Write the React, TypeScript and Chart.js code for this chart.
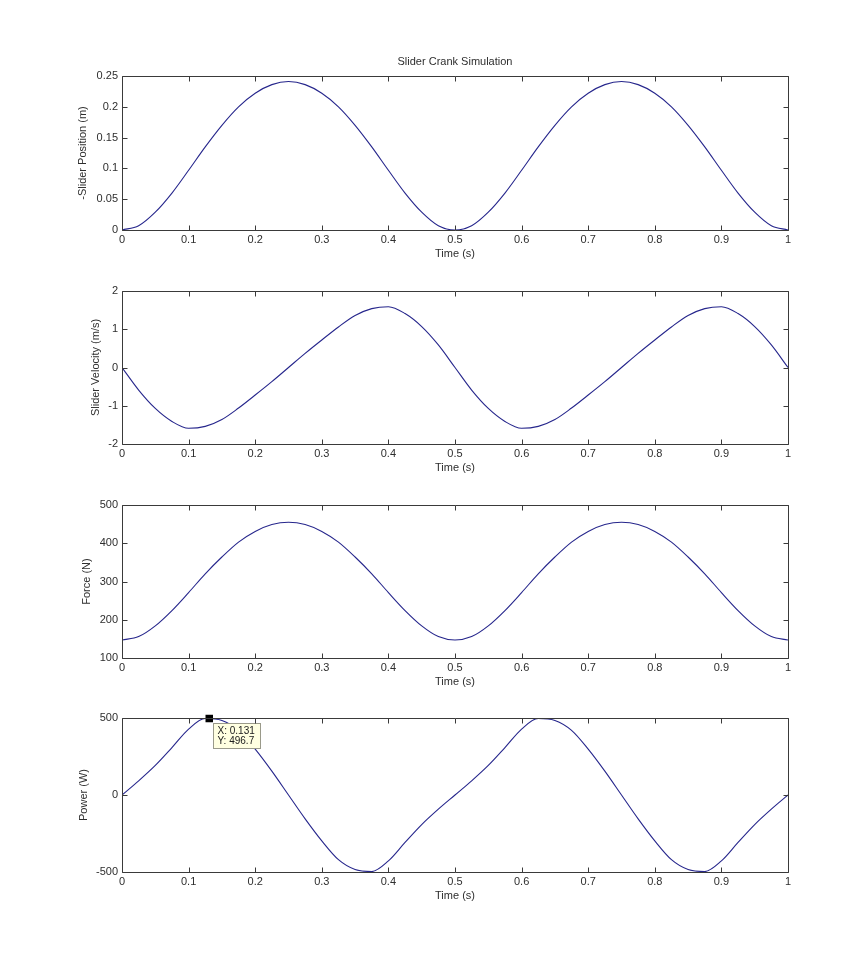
import React, { useEffect, useRef } from 'react';
import { Chart, registerables } from 'chart.js';

Chart.register(...registerables);

// ---------- data ----------
const timeValues = [0, 0.025, 0.05, 0.075, 0.1, 0.125, 0.15, 0.175, 0.2, 0.225, 0.25, 0.275, 0.3, 0.325, 0.35, 0.375, 0.4, 0.425, 0.45, 0.475, 0.5,
  0.525, 0.55, 0.575, 0.6, 0.625, 0.65, 0.675, 0.7, 0.725, 0.75, 0.775, 0.8, 0.825, 0.85, 0.875, 0.9, 0.925, 0.95, 0.975, 1];

const positionValues = [0, 0.007, 0.029, 0.060, 0.097, 0.135, 0.170, 0.200, 0.222, 0.236, 0.241, 0.236, 0.222, 0.200, 0.170, 0.135, 0.097, 0.060, 0.029, 0.007, 0,
  0.007, 0.029, 0.060, 0.097, 0.135, 0.170, 0.200, 0.222, 0.236, 0.241, 0.236, 0.222, 0.200, 0.170, 0.135, 0.097, 0.060, 0.029, 0.007, 0];

const velocityValues = [0, -0.59, -1.07, -1.41, -1.59, -1.54, -1.36, -1.06, -0.72, -0.37, 0, 0.37, 0.72, 1.06, 1.36, 1.54, 1.59, 1.41, 1.07, 0.59, 0,
  -0.59, -1.07, -1.41, -1.59, -1.54, -1.36, -1.06, -0.72, -0.37, 0, 0.37, 0.72, 1.06, 1.36, 1.54, 1.59, 1.41, 1.07, 0.59, 0];

const forceValues = [147, 156, 184, 224, 271, 320, 364, 403, 431, 449, 455, 449, 431, 403, 364, 320, 271, 224, 184, 156, 147,
  156, 184, 224, 271, 320, 364, 403, 431, 449, 455, 449, 431, 403, 364, 320, 271, 224, 184, 156, 147];

const powerValues = [0, 92, 192, 308, 428, 497, 484, 420, 298, 155, 0, -155, -298, -420, -484, -497, -428, -308, -192, -92, 0,
  92, 192, 308, 428, 497, 484, 420, 298, 155, 0, -155, -298, -420, -484, -497, -428, -308, -192, -92, 0];

const xTickValues = [0, 0.1, 0.2, 0.3, 0.4, 0.5, 0.6, 0.7, 0.8, 0.9, 1];
const xTickLabels = ['0', '0.1', '0.2', '0.3', '0.4', '0.5', '0.6', '0.7', '0.8', '0.9', '1'];

const positionTickValues = [0, 0.05, 0.1, 0.15, 0.2, 0.25];
const positionTickLabels = ['0', '0.05', '0.1', '0.15', '0.2', '0.25'];
const velocityTickValues = [-2, -1, 0, 1, 2];
const velocityTickLabels = ['-2', '-1', '0', '1', '2'];
const forceTickValues = [100, 200, 300, 400, 500];
const forceTickLabels = ['100', '200', '300', '400', '500'];
const powerTickValues = [-500, 0, 500];
const powerTickLabels = ['-500', '0', '500'];

const chartTitle = 'Slider Crank Simulation';
const xAxisTitle = 'Time (s)';
const dataTipX = 0.131;
const dataTipY = 496.7;

// ---------- styles ----------
const FONT_FAMILY = '"Liberation Sans", Arial, Helvetica, sans-serif';
const TEXT_COLOR = '#2e2e2e';
const AXIS_COLOR = '#3a3a3a';
const LINE_COLOR = '#26268c';

const boxPlugin = {
  id: 'matlabBox',
  afterDraw(chart: any) {
    const { ctx, chartArea, scales } = chart;
    const l = Math.round(chartArea.left) + 0.5;
    const r = Math.round(chartArea.right) + 0.5;
    const t = Math.round(chartArea.top) + 0.5;
    const b = Math.round(chartArea.bottom) + 0.5;
    const len = 5;
    ctx.save();
    ctx.strokeStyle = AXIS_COLOR;
    ctx.lineWidth = 1;
    ctx.beginPath();
    ctx.rect(l, t, r - l, b - t);
    scales.x.ticks.forEach((tk: any) => {
      const px = Math.round(scales.x.getPixelForValue(tk.value)) + 0.5;
      ctx.moveTo(px, b); ctx.lineTo(px, b - len);
      ctx.moveTo(px, t); ctx.lineTo(px, t + len);
    });
    scales.y.ticks.forEach((tk: any) => {
      const py = Math.round(scales.y.getPixelForValue(tk.value)) + 0.5;
      ctx.moveTo(l, py); ctx.lineTo(l + len, py);
      ctx.moveTo(r, py); ctx.lineTo(r - len, py);
    });
    ctx.stroke();
    ctx.restore();
  },
};

const dataTipPlugin = {
  id: 'dataTip',
  afterDatasetsDraw(chart: any, _args: any, opts: any) {
    if (!opts || !opts.show) return;
    const { ctx, scales } = chart;
    const px = scales.x.getPixelForValue(dataTipX);
    const py = scales.y.getPixelForValue(dataTipY);
    const line1 = `X: ${dataTipX}`;
    const line2 = `Y: ${dataTipY}`;
    ctx.save();
    ctx.font = `10px ${FONT_FAMILY}`;
    const w = Math.ceil(Math.max(ctx.measureText(line1).width, ctx.measureText(line2).width)) + 9;
    const h = 25;
    const bx = Math.round(px + 4) + 0.5;
    const by = Math.round(py + 4) + 0.5;
    ctx.fillStyle = '#ffffe1';
    ctx.fillRect(bx, by, w, h);
    ctx.strokeStyle = '#9a9a8a';
    ctx.lineWidth = 1;
    ctx.strokeRect(bx, by, w, h);
    ctx.fillStyle = '#202020';
    ctx.textBaseline = 'middle';
    ctx.textAlign = 'left';
    ctx.fillText(line1, bx + 4, by + 7.5);
    ctx.fillText(line2, bx + 4, by + 18);
    ctx.restore();
  },
};

type PanelCfg = {
  values: number[];
  yMin: number;
  yMax: number;
  yTickValues: number[];
  yTickLabels: string[];
  yTitle: string;
  yTitlePad: number;
  canvasTop: number;
  canvasHeight: number;
  padTop: number;
  showTitle: boolean;
  showTip: boolean;
};

const panels: PanelCfg[] = [
  { values: positionValues, yMin: 0, yMax: 0.25, yTickValues: positionTickValues, yTickLabels: positionTickLabels,
    yTitle: '-Slider Position (m)', yTitlePad: 76.7, canvasTop: 36, canvasHeight: 234, padTop: 0, showTitle: true, showTip: false },
  { values: velocityValues, yMin: -2, yMax: 2, yTickValues: velocityTickValues, yTickLabels: velocityTickLabels,
    yTitle: 'Slider Velocity (m/s)', yTitlePad: 88.9, canvasTop: 271, canvasHeight: 213, padTop: 20, showTitle: false, showTip: false },
  { values: forceValues, yMin: 100, yMax: 500, yTickValues: forceTickValues, yTickLabels: forceTickLabels,
    yTitle: 'Force (N)', yTitlePad: 79.9, canvasTop: 485, canvasHeight: 213, padTop: 20, showTitle: false, showTip: false },
  { values: powerValues, yMin: -500, yMax: 500, yTickValues: powerTickValues, yTickLabels: powerTickLabels,
    yTitle: 'Power (W)', yTitlePad: 77.1, canvasTop: 698, canvasHeight: 214, padTop: 20, showTitle: false, showTip: true },
];

function buildChart(canvas: HTMLCanvasElement, cfg: PanelCfg) {
  const font = { family: FONT_FAMILY, size: 11, weight: 'normal' as const };
  const datasets: any[] = [
    {
      data: timeValues.map((t, i) => ({ x: t, y: cfg.values[i] })),
      borderColor: LINE_COLOR,
      borderWidth: 1.1,
      pointRadius: 0,
      cubicInterpolationMode: 'monotone',
      fill: false,
      order: 2,
    },
  ];
  if (cfg.showTip) {
    datasets.push({
      data: [{ x: dataTipX, y: dataTipY }],
      showLine: false,
      pointStyle: 'rect',
      pointRadius: 5.3,
      backgroundColor: '#000',
      borderColor: '#000',
      borderWidth: 0,
      clip: false,
      order: 1,
    });
  }
  return new Chart(canvas, {
    type: 'line',
    data: { datasets },
    plugins: [boxPlugin, dataTipPlugin],
    options: {
      responsive: false,
      maintainAspectRatio: false,
      animation: false,
      events: [],
      layout: { padding: { top: cfg.padTop, right: 72, bottom: 0, left: 0 } },
      plugins: {
        legend: { display: false },
        tooltip: { enabled: false },
        title: cfg.showTitle
          ? { display: true, text: chartTitle, fullSize: false, color: TEXT_COLOR, font, padding: { top: 19.4, bottom: 7.4 } }
          : { display: false },
        dataTip: { show: cfg.showTip },
      } as any,
      scales: {
        x: {
          type: 'linear',
          min: 0,
          max: 1,
          afterBuildTicks: (s: any) => { s.ticks = xTickValues.map((v) => ({ value: v })); },
          afterFit: (s: any) => { s.height = 40; },
          ticks: {
            autoSkip: false,
            maxRotation: 0,
            padding: 3,
            color: TEXT_COLOR,
            font,
            callback: (_v: any, i: number) => xTickLabels[i],
          },
          grid: { display: false, drawTicks: false, tickLength: 0 },
          border: { display: false },
          title: { display: true, text: xAxisTitle, color: TEXT_COLOR, font, padding: { top: 0, bottom: 9.9 } },
        },
        y: {
          type: 'linear',
          min: cfg.yMin,
          max: cfg.yMax,
          afterBuildTicks: (s: any) => { s.ticks = cfg.yTickValues.map((v) => ({ value: v })); },
          afterFit: (s: any) => { s.width = 122; },
          ticks: {
            autoSkip: false,
            padding: 4,
            color: TEXT_COLOR,
            font,
            callback: (_v: any, i: number) => cfg.yTickLabels[i],
          },
          grid: { display: false, drawTicks: false, tickLength: 0 },
          border: { display: false },
          title: { display: true, text: cfg.yTitle, color: TEXT_COLOR, font, padding: { top: cfg.yTitlePad, bottom: 0 } },
        },
      },
    } as any,
  });
}

export default function App() {
  const refs = useRef<(HTMLCanvasElement | null)[]>([]);

  useEffect(() => {
    const charts = panels.map((cfg, i) => buildChart(refs.current[i] as HTMLCanvasElement, cfg));
    return () => charts.forEach((c) => c.destroy());
  }, []);

  return (
    <div style={{ position: 'absolute', left: 0, top: 0, width: 860, height: 976, background: '#ffffff', overflow: 'hidden' }}>
      {panels.map((cfg, i) => (
        <canvas
          key={i}
          ref={(el) => { refs.current[i] = el; }}
          width={860}
          height={cfg.canvasHeight}
          style={{ position: 'absolute', left: 0, top: cfg.canvasTop, width: 860, height: cfg.canvasHeight }}
        />
      ))}
    </div>
  );
}
